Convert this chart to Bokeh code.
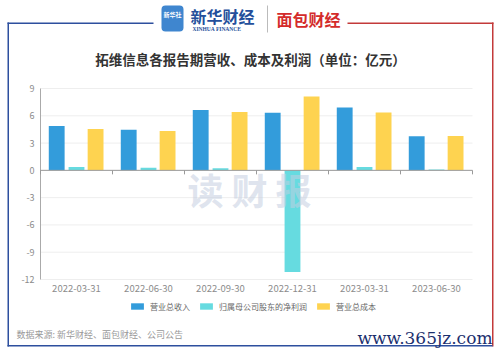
from bokeh.plotting import figure
from bokeh.models import (ColumnDataSource, Range1d, Label, BoxAnnotation, Legend, LegendItem)
from bokeh.core.properties import value
from bokeh.transform import dodge
from bokeh.embed import file_html
from bokeh.resources import INLINE

dates = ["2022-03-31", "2022-06-30", "2022-09-30", "2022-12-31", "2023-03-31", "2023-06-30"]
revenue = [4.87, 4.47, 6.63, 6.34, 6.92, 3.74]
net_profit = [0.37, 0.30, 0.22, -11.17, 0.36, 0.10]
cost = [4.54, 4.32, 6.41, 8.13, 6.37, 3.77]
series_names = ["营业总收入", "归属母公司股东的净利润", "营业总成本"]
colors = ["#339cdb", "#66dbe0", "#fed350"]
y_ticks = [-12, -9, -6, -3, 0, 3, 6, 9]
title_text = "拓维信息各报告期营收、成本及利润（单位：亿元）"
source_text = "数据来源: 新华财经、面包财经、公司公告"

CJK = "Noto Sans CJK SC"
W, H = 500, 353
# plot area in window px
PL, PR, PT, PB = 40, 472, 88, 279
n = len(dates)
ymin, ymax = y_ticks[0], y_ticks[-1]
xu = (PR - PL) / n
yu = (PB - PT) / (ymax - ymin)

pos = [i + 0.5 for i in range(n)]
src = ColumnDataSource(dict(x=pos, date=dates, revenue=revenue, net=net_profit, cost=cost))

p = figure(width=W, height=H,
           x_range=Range1d(-PL / xu, n + (W - PR) / xu),
           y_range=Range1d(ymin - (H - PB) / yu, ymax + PT / yu),
           output_backend="svg", toolbar_location=None,
           x_axis_location=None, y_axis_location=None, min_border=0,
           background_fill_color="white", border_fill_color="white")
p.outline_line_color = None
p.xgrid.visible = False
p.ygrid.visible = False

# grid lines
p.segment(x0=0, x1=n, y0=y_ticks, y1=y_ticks, line_color="#eeeeee", line_width=1)

# bars
r1 = p.vbar(x=dodge("x", -0.275), top="revenue", width=0.22, source=src,
            color=colors[0], line_color=None)
r2 = p.vbar(x=dodge("x", 0.0), top="net", width=0.22, source=src,
            color=colors[1], line_color=None)
r3 = p.vbar(x=dodge("x", 0.265), top="cost", width=0.22, source=src,
            color=colors[2], line_color=None)

# y axis line and labels
p.segment(x0=0, x1=0, y0=ymin, y1=ymax, line_color="#aaaaaa", line_width=1)
p.text(x=0, y=y_ticks, text=[str(t) for t in y_ticks], x_offset=-6,
       text_align="right", text_baseline="middle", text_font=value(CJK),
       text_font_size="9px", text_color="#8c8c8c")

# zero axis line with boundary ticks
p.segment(x0=0, x1=n, y0=0, y1=0, line_color="#9a9a9a", line_width=1)
bounds = list(range(n + 1))
p.segment(x0=bounds, x1=bounds, y0=0, y1=-4 / yu, line_color="#9a9a9a", line_width=1)

# x category labels
p.text(x="x", y=ymin, text="date", source=src, y_offset=9, text_align="center",
       text_baseline="middle", text_font=value(CJK), text_font_size="9.5px",
       text_color="#8c8c8c")

# legend
legend = Legend(items=[LegendItem(label=series_names[0], renderers=[r1]),
                       LegendItem(label=series_names[1], renderers=[r2]),
                       LegendItem(label=series_names[2], renderers=[r3])],
                orientation="horizontal", location=(129, H - 312),
                glyph_width=16, glyph_height=8, label_text_font_size="8px",
                label_text_font=CJK, label_text_color="#666666", label_standoff=5,
                spacing=8, padding=0, margin=0, border_line_color=None,
                background_fill_alpha=0, label_height=12)
p.add_layout(legend)

blue = "#2d4f9e"
red = "#c33a3a"

def box(l, r, t, b, c, radius=0):
    p.add_layout(BoxAnnotation(left=l, right=r, top=H - t, bottom=H - b,
                               left_units="screen", right_units="screen",
                               top_units="screen", bottom_units="screen",
                               fill_color=c, fill_alpha=1, line_color=None, level="overlay",
                               border_radius=radius))

def lab(x, y, text, size, color, align="left", baseline="middle", bold=False, font=CJK, alpha=1.0):
    p.add_layout(Label(x=x, y=H - y, x_units="screen", y_units="screen", text=text,
                       text_font_size=size, text_color=color, text_align=align,
                       text_baseline=baseline, text_font=font, text_alpha=alpha,
                       text_font_style="bold" if bold else "normal", level="overlay"))

for (l, r, t, b, c) in [(7, 153, 22, 23.5, blue), (347, 493, 22, 23.5, red),
                        (7, 8.5, 22, 346, blue), (491.5, 493, 22, 346, red),
                        (7, 492, 344.5, 346, blue)]:
    box(l, r, t, b, c)
box(161, 183, 5, 31, "#3f86cf", radius=4)
box(266.5, 267.5, 5, 32, "#bbbbbb")

lab(172, 14, "新华社", "6px", "white", align="center", bold=True)
lab(190, 15, "新华财经", "16px", "#244f9b", bold=True)
lab(192, 28, "XINHUA FINANCE", "5.5px", "#244f9b", font="Liberation Serif", bold=True)
lab(276, 18, "面包财经", "16px", "#d42b2b", bold=True)
lab(250, 58, title_text, "13.5px", "#333333", align="center", bold=True)
for cx, ch in zip([205, 249, 293], "读财报"):
    lab(cx, 188, ch, "36px", "#c3cee0", align="center", bold=True, alpha=0.55)
lab(16, 334, source_text, "9px", "#999999")
lab(492, 337, "www.365jz.com", "17px", "#1b2f6e", align="right", font="DejaVu Serif")

open("out.html", "w").write(file_html(p, INLINE))
